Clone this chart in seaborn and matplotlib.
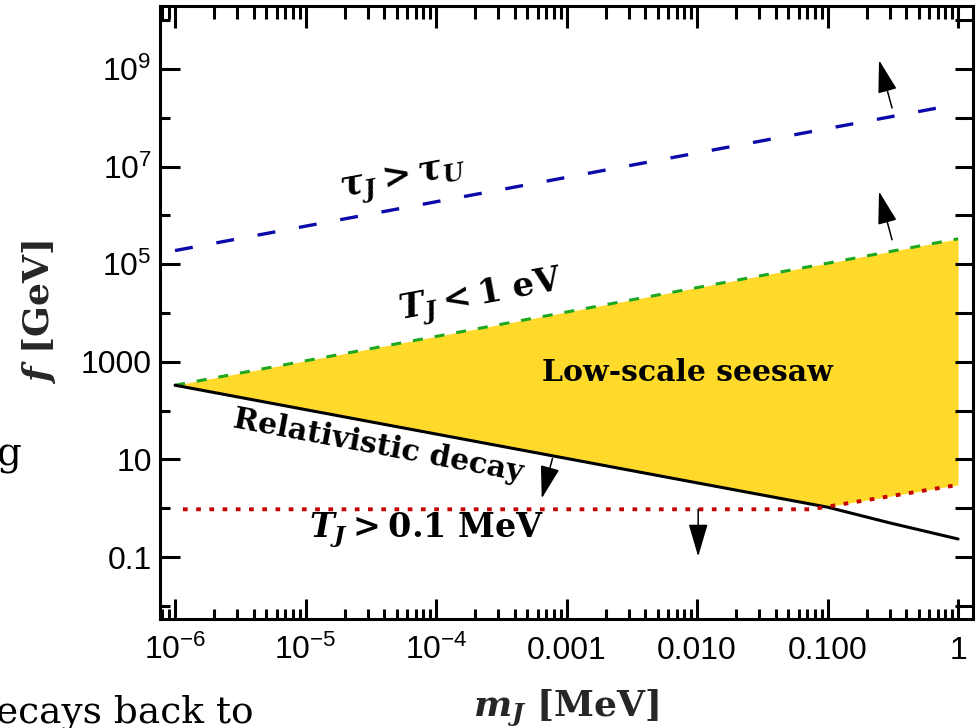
import numpy as np
import matplotlib
matplotlib.use("Agg")
import matplotlib.pyplot as plt
import matplotlib.ticker as mticker
import seaborn as sns

# ---------------- data ----------------
m_tauU = [1e-6, 1.0]                 # tau_J > tau_U  (blue dashed)
f_tauU = [1.9e5, 1.9e8]
m_Tev = [1e-6, 1.0]                  # T_J < 1 eV  (green dashed)
f_Tev = [331.0, 3.31e5]
m_rel = [1e-6, 1e-4, 1e-2, 0.1, 0.3, 1.0]   # relativistic decay (black)
f_rel = [331.0, 33.1, 3.31, 1.05, 0.50, 0.234]
m_Tmev = [1.15e-6, 0.075, 1.0]       # T_J > 0.1 MeV (red dotted)
f_Tmev = [0.95, 0.95, 3.0]

x_ticks = [1e-6, 1e-5, 1e-4, 1e-3, 1e-2, 1e-1, 1.0]
x_labels = [r"$\mathsf{10^{-6}}$", r"$\mathsf{10^{-5}}$", r"$\mathsf{10^{-4}}$",
            "0.001", "0.010", "0.100", "1"]
y_ticks = [0.1, 10, 1000, 1e5, 1e7, 1e9]
y_labels = ["0.1", "10", "1000", r"$\mathsf{10^{5}}$", r"$\mathsf{10^{7}}$",
            r"$\mathsf{10^{9}}$"]
y_minor = [1e-2, 1, 100, 1e4, 1e6, 1e8, 1e10]
y_right = [10.0 ** k for k in range(-2, 11)]

# ---------------- style ----------------
sns.set_theme(style="white")
plt.rcParams["font.family"] = ["Liberation Sans", "DejaVu Sans"]
plt.rcParams["mathtext.fontset"] = "custom"
plt.rcParams["mathtext.rm"] = "DejaVu Serif:bold"
plt.rcParams["mathtext.bf"] = "DejaVu Serif:bold"
plt.rcParams["mathtext.it"] = "DejaVu Serif:italic:bold"
plt.rcParams["mathtext.sf"] = "Liberation Sans"

YELLOW = "#FFDA2B"
BLUE = "#0A0AAA"
GREEN = "#1EA81E"
RED = "#C40000"

XLIM = (10 ** -6.115, 10 ** 0.111)
YLIM = (10 ** -2.26, 10 ** 10.28)

fig = plt.figure(figsize=(9.8, 7.28), dpi=100)
ax = fig.add_axes([0.1633, 0.1504, 0.8291, 0.8407])
ax.set_xscale("log")
ax.set_yscale("log")
ax.set_xlim(*XLIM)
ax.set_ylim(*YLIM)

# filled region: between max(black, red) and green
grid = np.logspace(-6, 0, 600)
lg = np.log10(grid)
low_rel = np.interp(lg, np.log10(m_rel), np.log10(f_rel))
low_red = np.interp(lg, np.log10(m_Tmev), np.log10(f_Tmev))
up = np.interp(lg, np.log10(m_Tev), np.log10(f_Tev))
ax.fill_between(grid, 10 ** np.maximum(low_rel, low_red), 10 ** up,
                color=YELLOW, lw=0, zorder=1)

sns.lineplot(x=m_tauU, y=f_tauU, ax=ax, color=BLUE, lw=2.4,
             linestyle=(0, (5.4, 7.2)), zorder=3)
sns.lineplot(x=m_Tev, y=f_Tev, ax=ax, color=GREEN, lw=2.2,
             linestyle=(0, (3.3, 3.9)), zorder=3)
sns.lineplot(x=m_rel, y=f_rel, ax=ax, color="black", lw=2.2, zorder=3)
sns.lineplot(x=m_Tmev, y=f_Tmev, ax=ax, color=RED, lw=2.8,
             linestyle=(0, (1.2, 2.2)), zorder=3)

# arrows
arrow_kw = dict(arrowstyle="-|>,head_length=1.7,head_width=0.5",
                mutation_scale=12, lw=1.1, color="black",
                shrinkA=0, shrinkB=0)
arrows = [((0.312, 10 ** 8.20), (0.248, 10 ** 9.18)),
          ((0.312, 10 ** 5.50), (0.248, 10 ** 6.49)),
          ((7.8e-4, 10 ** 1.02), (6.45e-4, 10 ** 0.20)),
          ((0.0102, 10 ** -0.02), (0.0102, 10 ** -0.99))]
for tail, tip in arrows:
    ax.annotate("", xy=tip, xytext=tail, arrowprops=arrow_kw, zorder=4)

# annotations
ang = 10.6
ax.text(5.6e-5, 5.3e6, r"$\tau_J > \tau_U$", rotation=ang, rotation_mode="anchor",
        ha="center", va="center", fontsize=25, color="black")
ax.text(2.2e-4, 2.13e4, r"$T_J < 1\ \mathrm{eV}$", rotation=ang, rotation_mode="anchor",
        ha="center", va="center", fontsize=24.5, color="black")
ax.text(8.5e-3, 590, "Low-scale seesaw", ha="center", va="center", fontsize=21.5,
        family="DejaVu Serif", weight="bold", color="black")
ax.text(3.6e-5, 18.8, "Relativistic decay", rotation=-ang, rotation_mode="anchor",
        ha="center", va="center", fontsize=21.5, family="DejaVu Serif",
        weight="bold", color="black")
ax.text(8.5e-5, 0.35, r"$T_J > 0.1\ \mathrm{MeV}$", ha="center", va="center",
        fontsize=24, color="black")

# axis labels
ax.set_xlabel(r"$m_J\ [\mathrm{MeV}]$", fontsize=26)
ax.set_ylabel(r"$f\ [\mathrm{GeV}]$", fontsize=26)
ax.xaxis.set_label_coords(0.5, -0.113)
ax.yaxis.set_label_coords(-0.1255, 0.5)

# twin axes carrying the top and right frame ticks
tx = ax.twiny()
tx.set_xscale("log")
tx.set_xlim(*XLIM)
tx.xaxis.set_major_locator(mticker.FixedLocator(x_ticks))
tx.xaxis.set_major_formatter(mticker.NullFormatter())
tx.xaxis.set_minor_locator(mticker.LogLocator(base=10, subs=np.arange(2, 10), numticks=100))
tx.xaxis.set_minor_formatter(mticker.NullFormatter())
tx.tick_params(axis="x", which="both", direction="in", width=2.2, colors="black",
               top=True, bottom=False, labeltop=False, labelbottom=False)
tx.tick_params(axis="x", which="major", length=15.8)
tx.tick_params(axis="x", which="minor", length=9.4)
tx.tick_params(axis="y", which="both", left=False, right=False,
               labelleft=False, labelright=False)
for s in tx.spines.values():
    s.set_visible(False)

ty = ax.twinx()
ty.set_yscale("log")
ty.set_ylim(*YLIM)
ty.yaxis.set_major_locator(mticker.FixedLocator(y_right))
ty.yaxis.set_major_formatter(mticker.NullFormatter())
ty.yaxis.set_minor_locator(mticker.NullLocator())
ty.tick_params(axis="y", which="major", direction="in", width=2.2, length=13,
               colors="black", right=True, left=False, labelright=False,
               labelleft=False)
for s in ty.spines.values():
    s.set_visible(False)

# main axes ticks (bottom / left)
ax.xaxis.set_major_locator(mticker.FixedLocator(x_ticks))
ax.xaxis.set_major_formatter(mticker.FixedFormatter(x_labels))
ax.xaxis.set_minor_locator(mticker.LogLocator(base=10, subs=np.arange(2, 10), numticks=100))
ax.xaxis.set_minor_formatter(mticker.NullFormatter())
ax.yaxis.set_major_locator(mticker.FixedLocator(y_ticks))
ax.yaxis.set_major_formatter(mticker.FixedFormatter(y_labels))
ax.yaxis.set_minor_locator(mticker.FixedLocator(y_minor))
ax.yaxis.set_minor_formatter(mticker.NullFormatter())
ax.tick_params(axis="both", which="both", direction="in", width=2.2,
               colors="black", labelsize=23, bottom=True, left=True,
               top=False, right=False)
ax.tick_params(axis="both", which="major", length=14.4)
ax.tick_params(axis="both", which="minor", length=7.2)
ax.tick_params(axis="x", which="major", pad=29)
ax.tick_params(axis="y", which="major", pad=6)
for t in ax.xaxis.get_major_ticks():
    t.label1.set_va("baseline")

for s in ax.spines.values():
    s.set_linewidth(2.2)
    s.set_color("black")
    s.set_visible(True)

# fragments of the surrounding page text
fig.text(-0.004, 0.36, "g", family="DejaVu Serif", fontsize=28, color="black",
         ha="left", va="baseline")
fig.text(-0.004, 0.008, "ecays back to", family="DejaVu Serif", fontsize=27,
         color="black", ha="left", va="baseline")

fig.savefig("out.png", dpi=100)
